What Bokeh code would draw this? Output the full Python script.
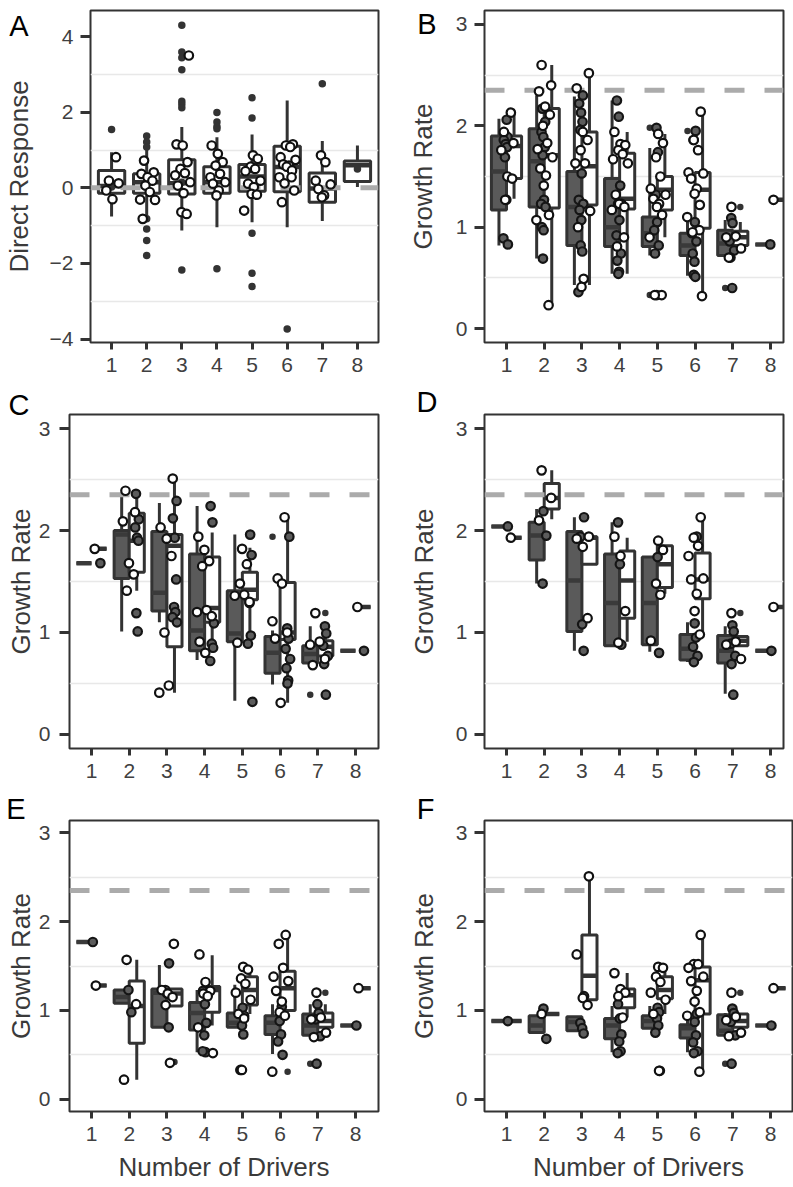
from bokeh.plotting import figure
from bokeh.models import Range1d, FixedTicker, ColumnDataSource, LinearAxis, CustomJSTickFormatter
from bokeh.layouts import column, row
from bokeh.embed import file_html
from bokeh.resources import INLINE

FONT = "Liberation Sans"
groups = [1, 2, 3, 4, 5, 6, 7, 8]
REF_RATE = 2.35
REF_DIRECT = 0.0

# ---------------- Panel A (Direct Response) ----------------
A_box = {"lo": [-0.76, -0.90, -1.13, -1.04, -0.91, -1.04, -0.88, 0.02],
         "q1": [-0.14, -0.14, -0.16, -0.14, -0.09, -0.10, -0.38, 0.17],
         "med": [0.05, 0.15, 0.12, 0.15, 0.30, 0.55, -0.02, 0.60],
         "q3": [0.46, 0.37, 0.74, 0.56, 0.62, 1.10, 0.39, 0.71],
         "hi": [0.94, 1.43, 1.61, 1.34, 1.41, 2.31, 1.24, 1.12]}
A_dark = [[1.54, 0.12, 0.08, 0.02],
          [1.37, 1.21, 1.08, 0.28, 0.15, -0.82, -1.09, -1.39, -1.79],
          [4.30, 3.59, 3.44, 3.12, 2.29, 2.21, 2.12, 0.15, -0.16, -2.17],
          [1.99, 1.74, 1.62, 1.56, 0.59, -2.14],
          [2.38, 1.85, 0.55, 0.48, -1.20, -2.26, -2.61],
          [-3.73],
          [2.75],
          [0.50]]
A_white = [[0.81, 0.19, 0.12, -0.07, -0.30],
           [0.72, 0.41, 0.37, 0.28, 0.19, 0.06, -0.11, -0.31, -0.32, -0.82],
           [3.50, 1.15, 1.12, 0.68, 0.50, 0.39, 0.33, 0.15, 0.06, -0.14, -0.64, -0.69],
           [1.12, 0.90, 0.68, 0.59, 0.37, 0.28, 0.15, 0.11, -0.07, -0.20],
           [0.86, 0.77, 0.56, 0.50, 0.44, 0.19, 0.11, 0.02, -0.16, -0.18, -0.60],
           [1.15, 1.12, 1.08, 0.81, 0.74, 0.62, 0.59, 0.56, 0.46, 0.28, 0.28, 0.12, -0.07, -0.38],
           [0.86, 0.68, 0.19, 0.09, -0.03, -0.20, -0.25],
           []]

# ---------------- Panel B ----------------
B_dark_box = {"lo": [0.82, 0.69, 0.43, 0.54, 0.72, 0.52, 0.72, 0.83],
              "q1": [1.17, 1.20, 0.82, 0.81, 0.81, 0.72, 0.72, 0.83],
              "med": [1.55, 1.65, 1.20, 1.00, 0.94, 0.82, 0.84, 0.83],
              "q3": [1.90, 1.97, 1.55, 1.48, 1.10, 0.94, 0.97, 0.83],
              "hi": [2.07, 2.30, 2.29, 2.25, 1.78, 1.09, 1.07, 0.83]}
B_white_box = {"lo": [1.28, 0.23, 0.43, 0.54, 0.90, 0.30, 0.82, 1.27],
               "q1": [1.48, 1.19, 1.22, 1.18, 1.17, 0.99, 0.82, 1.27],
               "med": [1.80, 1.71, 1.60, 1.28, 1.37, 1.37, 0.90, 1.27],
               "q3": [1.90, 2.17, 1.94, 1.73, 1.50, 1.54, 0.96, 1.27],
               "hi": [2.12, 2.60, 2.52, 1.94, 1.92, 2.13, 1.05, 1.27]}
B_dark = [[2.06, 1.92, 1.89, 1.86, 1.82, 1.79, 1.69, 1.27, 0.89, 0.83],
          [2.17, 2.04, 1.94, 1.89, 1.79, 1.71, 1.27, 1.23, 1.20, 1.00, 0.97, 0.69],
          [2.30, 2.22, 2.13, 2.04, 1.96, 1.53, 1.27, 1.23, 1.17, 1.07, 0.82, 0.76, 0.36],
          [2.25, 2.09, 1.41, 1.23, 1.07, 0.92, 0.74, 0.67, 0.56, 0.54],
          [1.98, 1.74, 1.32, 1.05, 0.97, 0.82, 0.74, 0.33],
          [1.95, 1.86, 1.05, 0.94, 0.86, 0.74, 0.66, 0.53, 0.51],
          [1.09, 1.04, 0.86, 0.77, 0.70, 0.40],
          [0.83]]
B_white = [[2.13, 1.94, 1.83, 1.76, 1.50, 1.48, 1.27],
           [2.60, 2.40, 2.34, 2.19, 2.11, 2.00, 1.83, 1.77, 1.69, 1.58, 1.51, 1.41, 1.12, 1.07, 0.23],
           [2.52, 2.37, 1.94, 1.86, 1.76, 1.63, 1.63, 1.16, 1.00, 0.49, 0.41],
           [1.94, 1.82, 1.81, 1.76, 1.72, 1.67, 1.63, 1.32, 1.23, 1.23, 1.20, 1.17, 0.90, 0.81],
           [1.92, 1.83, 1.69, 1.50, 1.38, 1.32, 1.28, 1.23, 1.20, 1.12, 0.90, 0.33, 0.33],
           [2.14, 1.86, 1.76, 1.54, 1.53, 1.48, 1.38, 1.33, 1.22, 1.10, 0.97, 0.95, 0.32],
           [1.20, 0.91, 0.90, 0.79, 0.70],
           [1.27]]
B_out_group = [5, 5, 6, 7, 7]
B_out_side = ["dark", "dark", "dark", "dark", "white"]
B_out_value = [1.98, 0.33, 1.95, 0.40, 1.20]

# ---------------- Panel C ----------------
C_dark_box = {"lo": [1.68, 1.01, 1.10, 0.73, 0.33, 0.49, 0.70, 0.82],
              "q1": [1.68, 1.53, 1.21, 0.82, 0.91, 0.60, 0.70, 0.82],
              "med": [1.68, 1.96, 1.39, 1.02, 0.99, 0.80, 0.79, 0.82],
              "q3": [1.68, 2.00, 1.99, 1.77, 1.41, 0.96, 0.87, 0.82],
              "hi": [1.68, 2.34, 2.27, 2.24, 1.96, 1.02, 1.06, 0.82]}
C_white_box = {"lo": [1.82, 1.41, 0.41, 0.80, 0.90, 0.31, 0.74, 1.25],
               "q1": [1.82, 1.59, 0.86, 1.10, 1.32, 0.93, 0.77, 1.25],
               "med": [1.82, 1.90, 1.85, 1.24, 1.42, 1.00, 0.86, 1.25],
               "q3": [1.82, 2.17, 1.96, 1.74, 1.59, 1.49, 0.92, 1.25],
               "hi": [1.82, 2.37, 2.51, 1.98, 1.83, 2.13, 1.06, 1.25]}
C_dark = [[1.68],
          [2.36, 2.11, 2.03, 1.93, 1.90, 1.19, 1.01],
          [2.29, 2.12, 1.93, 1.52, 1.25, 1.20, 1.15, 1.10],
          [2.24, 2.08, 1.09, 0.89, 0.85, 0.72],
          [1.96, 1.76, 1.29, 0.97, 0.89, 0.32],
          [1.94, 1.04, 0.94, 0.84, 0.74, 0.65, 0.53, 0.50],
          [1.06, 0.99, 0.87, 0.77, 0.69, 0.39],
          [0.82]]
C_white = [[1.82],
           [2.39, 2.18, 2.09, 1.68, 1.57, 1.41],
           [2.51, 2.03, 1.92, 1.75, 1.00, 0.48, 0.41],
           [1.94, 1.81, 1.70, 1.65, 1.22, 1.20, 1.16, 0.91, 0.80],
           [1.82, 1.67, 1.48, 1.37, 1.36, 1.30, 0.90],
           [2.13, 1.53, 1.48, 1.11, 1.00, 0.94, 0.31],
           [1.19, 0.91, 0.88, 0.74, 0.68],
           [1.25]]
C_out_group = [6, 7, 7]
C_out_side = ["dark", "dark", "white"]
C_out_value = [1.94, 0.39, 1.19]

# ---------------- Panel D ----------------
D_dark_box = {"lo": [2.04, 1.48, 0.82, 0.87, 0.81, 0.71, 0.40, 0.82],
              "q1": [2.04, 1.71, 1.01, 0.87, 0.88, 0.73, 0.70, 0.82],
              "med": [2.04, 1.95, 1.51, 1.29, 1.29, 0.84, 0.82, 0.82],
              "q3": [2.04, 2.08, 1.99, 1.77, 1.74, 0.98, 0.97, 0.82],
              "hi": [2.04, 2.21, 2.13, 2.08, 1.74, 1.10, 1.06, 0.82]}
D_white_box = {"lo": [1.93, 2.11, 1.67, 0.91, 1.38, 0.98, 0.87, 1.25],
               "q1": [1.93, 2.21, 1.67, 1.14, 1.44, 1.33, 0.87, 1.25],
               "med": [1.93, 2.32, 1.93, 1.51, 1.67, 1.52, 0.92, 1.25],
               "q3": [1.93, 2.46, 1.94, 1.80, 1.85, 1.78, 0.96, 1.25],
               "hi": [1.93, 2.59, 1.94, 1.93, 1.85, 2.13, 0.96, 1.25]}
D_dark = [[2.04], [2.19, 1.95, 1.48], [2.13, 1.94, 1.08, 0.82], [2.08, 1.67, 0.88],
          [1.74, 0.80], [1.94, 1.09, 0.95, 0.86, 0.77, 0.71],
          [1.07, 1.01, 0.89, 0.77, 0.69, 0.39], [0.82]]
D_white = [[1.93], [2.59, 2.32, 2.10], [1.94, 1.92, 1.84, 1.14], [1.94, 1.75, 1.21, 0.90],
           [1.90, 1.81, 1.48, 1.37, 0.92],
           [2.13, 1.93, 1.85, 1.75, 1.53, 1.52, 1.38, 1.21, 0.98],
           [1.19, 0.91, 0.88, 0.74], [1.25]]
D_out_group = [7]
D_out_side = ["white"]
D_out_value = [1.19]

# ---------------- Panel E ----------------
E_dark_box = {"lo": [1.77, 1.08, 0.81, 0.53, 0.81, 0.51, 0.72, 0.83],
              "q1": [1.77, 1.08, 0.81, 0.78, 0.81, 0.73, 0.72, 0.83],
              "med": [1.77, 1.15, 1.20, 0.97, 0.86, 0.86, 0.83, 0.83],
              "q3": [1.77, 1.23, 1.24, 1.09, 0.97, 0.94, 0.96, 0.83],
              "hi": [1.77, 1.23, 1.51, 1.23, 1.29, 1.07, 1.07, 0.83]}
E_white_box = {"lo": [1.28, 0.22, 1.05, 0.83, 0.96, 1.00, 0.81, 1.25],
               "q1": [1.28, 0.63, 1.05, 0.98, 1.06, 1.00, 0.81, 1.25],
               "med": [1.28, 1.05, 1.19, 1.23, 1.23, 1.25, 0.88, 1.25],
               "q3": [1.28, 1.33, 1.24, 1.27, 1.38, 1.44, 0.97, 1.25],
               "hi": [1.28, 1.57, 1.24, 1.62, 1.46, 1.83, 1.07, 1.25]}
E_dark = [[1.77], [1.23, 0.98], [1.53, 1.23, 1.19, 0.81], [1.22, 1.07, 0.86, 0.72, 0.53, 0.54],
          [1.03, 0.94, 0.83, 0.73, 0.33], [1.04, 0.88, 0.73, 0.65, 0.50],
          [1.07, 0.97, 0.90, 0.71, 0.40], [0.83]]
E_white = [[1.28], [1.57, 1.07, 0.22], [1.75, 1.23, 1.19, 1.15, 1.06, 0.41],
           [1.63, 1.32, 1.22, 1.19, 1.16, 0.81, 0.52],
           [1.49, 1.46, 1.36, 1.30, 1.20, 1.12, 0.96, 0.91, 0.33],
           [1.85, 1.75, 1.48, 1.38, 1.33, 1.22, 1.10, 0.98, 0.94, 0.31],
           [1.20, 0.92, 0.90, 0.75, 0.70], [1.25]]
E_out_group = [3, 3, 6, 7, 7]
E_out_side = ["white", "white", "white", "dark", "white"]
E_out_value = [1.75, 0.42, 0.31, 0.40, 1.20]

# ---------------- Panel F ----------------
F_dark_box = {"lo": [0.88, 0.75, 0.77, 0.53, 0.80, 0.53, 0.72, 0.83],
              "q1": [0.88, 0.75, 0.77, 0.68, 0.80, 0.69, 0.72, 0.83],
              "med": [0.88, 0.83, 0.87, 0.83, 0.88, 0.80, 0.77, 0.83],
              "q3": [0.88, 0.94, 0.93, 0.91, 0.94, 0.84, 0.95, 0.83],
              "hi": [0.88, 0.94, 0.93, 1.05, 1.05, 0.96, 0.97, 0.83]}
F_white_box = {"lo": [0.88, 0.96, 1.12, 0.92, 0.96, 0.33, 0.81, 1.25],
               "q1": [0.88, 0.96, 1.12, 1.03, 1.13, 0.96, 0.81, 1.25],
               "med": [0.88, 0.96, 1.39, 1.17, 1.23, 1.34, 0.88, 1.25],
               "q3": [0.88, 0.96, 1.85, 1.24, 1.38, 1.49, 0.96, 1.25],
               "hi": [0.88, 0.96, 2.51, 1.42, 1.49, 1.84, 0.96, 1.25]}
F_dark = [[0.88], [1.02, 0.68], [1.16, 0.86, 0.80, 0.74], [1.07, 0.91, 0.73, 0.65, 0.54, 0.52],
          [1.03, 0.98, 0.91, 0.83, 0.75, 0.32], [0.96, 0.87, 0.72, 0.64, 0.54, 0.52],
          [1.02, 0.97, 0.87, 0.72, 0.40], [0.83]]
F_white = [[], [0.96], [2.51, 1.63, 1.14, 1.06], [1.42, 1.24, 1.20, 1.16, 0.92],
           [1.49, 1.48, 1.38, 1.32, 1.20, 1.12, 0.96, 0.32],
           [1.85, 1.52, 1.52, 1.48, 1.38, 1.33, 1.22, 1.10, 0.98, 0.94, 0.31],
           [1.20, 0.93, 0.89, 0.75, 0.71], [1.25]]
F_out_group = [7, 7]
F_out_side = ["dark", "white"]
F_out_value = [0.40, 1.20]

# ---------------- styling / helpers ----------------
DARK_FILL = "#5a5a5a"
LINE = "#333333"
TITLE_COLOR = "#3a3a3a"
JITTER = [-0.9, 0.5, -0.3, 0.8, -0.6, 0.1, 0.65, -0.15, 0.35, -0.75, 0.95, -0.45, 0.2, -0.05, 0.55]


def make_fig(w, h, xr, yr, bl, br, bt, bb, yticks, minor, ystandoff):
    p = figure(width=w, height=h, x_range=Range1d(*xr), y_range=Range1d(*yr), title=None,
               output_backend="svg", toolbar_location=None,
               min_border_left=bl, min_border_right=br, min_border_top=bt, min_border_bottom=bb)
    p.outline_line_color = LINE
    p.outline_line_width = 2
    p.background_fill_color = "white"
    p.border_fill_color = "white"
    p.xgrid.visible = False
    p.ygrid.ticker = FixedTicker(ticks=minor)
    p.ygrid.grid_line_color = "#e8e8e8"
    p.ygrid.grid_line_width = 1.3
    xa = p.xaxis[0]
    ya = p.yaxis[0]
    xa.ticker = FixedTicker(ticks=groups)
    ya.ticker = FixedTicker(ticks=yticks)
    ya.formatter = CustomJSTickFormatter(code="return tick < 0 ? '\\u2212' + Math.abs(tick) : String(tick);")
    for ax in (xa, ya):
        ax.axis_line_color = None
        ax.major_tick_line_color = LINE
        ax.major_tick_line_width = 3
        ax.major_tick_in = 0
        ax.minor_tick_line_color = None
        ax.major_label_text_font = FONT
        ax.major_label_text_font_size = "21px"
        ax.major_label_text_color = "#404040"
    xa.major_tick_out = 7
    xa.major_label_standoff = 8
    ya.major_tick_out = 10
    ya.major_label_standoff = ystandoff
    return p


def letter_axis(p, letter, px_from_top, standoff, ytitle, title_standoff, two_line=False):
    """Outer left axis that carries the panel letter (as its only tick label) and the y title."""
    yr = p.y_range
    ppu = (p.height - p.min_border_top - p.min_border_bottom) / (yr.end - yr.start)
    tick = round(yr.end - px_from_top / ppu, 4)
    txt = letter + ("\\n\\u00a0" if two_line else "")
    ax = LinearAxis(ticker=FixedTicker(ticks=[tick]),
                    formatter=CustomJSTickFormatter(code="return '%s';" % txt))
    ax.axis_line_color = None
    ax.major_tick_line_color = None
    ax.minor_tick_line_color = None
    ax.major_tick_out = 0
    ax.major_tick_in = 0
    ax.major_label_standoff = standoff
    ax.major_label_text_font = FONT
    ax.major_label_text_font_size = "29px"
    ax.major_label_text_color = "black"
    ax.axis_label = ytitle
    ax.axis_label_standoff = title_standoff
    ax.axis_label_text_font = FONT
    ax.axis_label_text_font_size = "26px"
    ax.axis_label_text_font_style = "normal"
    ax.axis_label_text_color = TITLE_COLOR
    p.add_layout(ax, "left")


def x_title(p):
    xa = p.xaxis[0]
    xa.axis_label = "Number of Drivers"
    xa.axis_label_standoff = 8
    xa.axis_label_text_font = FONT
    xa.axis_label_text_font_size = "26px"
    xa.axis_label_text_font_style = "normal"
    xa.axis_label_text_color = TITLE_COLOR


def draw_ref(p, yval, offset=0):
    xr = p.x_range
    p.segment(x0=[xr.start], y0=[yval], x1=[xr.end], y1=[yval], line_color="#ababab",
              line_width=5, line_dash="20 20", line_dash_offset=offset)


def draw_boxes(p, box, shift, width, fill, med_color):
    xs = [g + shift for g in groups]
    src = ColumnDataSource(dict(x=xs, x0=[x - width / 2 for x in xs], x1=[x + width / 2 for x in xs],
                                lo=box["lo"], q1=box["q1"], med=box["med"], q3=box["q3"], hi=box["hi"]))
    p.segment(x0="x", y0="q3", x1="x", y1="hi", source=src, line_color=LINE, line_width=3)
    p.segment(x0="x", y0="q1", x1="x", y1="lo", source=src, line_color=LINE, line_width=3)
    p.vbar(x="x", width=width, top="q3", bottom="q1", source=src, fill_color=fill,
           line_color=LINE, line_width=3)
    p.segment(x0="x0", y0="med", x1="x1", y1="med", source=src, line_color=med_color, line_width=4.5)


def jittered(values_by_group, center, spread):
    xs, ys = [], []
    for g, vals in zip(groups, values_by_group):
        for i, v in enumerate(vals):
            xs.append(g + center + JITTER[(i + g) % len(JITTER)] * spread)
            ys.append(v)
    return xs, ys


def draw_points(p, vals, center, spread, kind):
    xs, ys = jittered(vals, center, spread)
    if kind == "white":
        p.scatter(xs, ys, size=8.5, fill_color="white", line_color="#111111", line_width=2.2)
    elif kind == "dark":
        p.scatter(xs, ys, size=8.5, fill_color="#5c5c5c", line_color="#151515", line_width=2.2)
    else:
        p.scatter(xs, ys, size=7.5, fill_color=LINE, line_color=None)


def draw_outliers(p, grp, side, val):
    xs = [g + (-0.2 if s == "dark" else 0.2) for g, s in zip(grp, side)]
    p.scatter(xs, val, size=6.5, fill_color=LINE, line_color=None)


def growth_panel(p, dbox, wbox, dpts, wpts, og, os_, ov, dark_center, white_center):
    draw_boxes(p, dbox, -0.2, 0.4, DARK_FILL, "#3a3a3a")
    draw_boxes(p, wbox, 0.2, 0.4, "white", LINE)
    draw_ref(p, REF_RATE)
    draw_outliers(p, og, os_, ov)
    draw_points(p, dpts, dark_center, 0.07, "dark")
    draw_points(p, wpts, white_center, 0.23, "white")


YR = (-0.138, 3.138)
YT = [0, 1, 2, 3]
YM = [0.5, 1.5, 2.5]

# Panel A
pA = make_fig(395, 384, (0.4, 8.6), (-4.09, 4.69), 90, 17, 10, 42, [-4, -2, 0, 2, 4], [-3, -1, 1, 3], 7)
draw_boxes(pA, A_box, 0.0, 0.75, "white", LINE)
draw_ref(pA, REF_DIRECT, offset=10)
draw_points(pA, A_dark, 0.0, 0.0, "dot")
draw_points(pA, A_white, 0.0, 0.25, "white")
letter_axis(pA, "A", 15, 18, "Direct Response", -28)

pB = make_fig(398, 384, (0.4166, 8.3456), YR, 89, 10, 10, 42, YT, YM, 7)
growth_panel(pB, B_dark_box, B_white_box, B_dark, B_white, B_out_group, B_out_side, B_out_value, -0.03, 0.0)
letter_axis(pB, "B", 14, 16, "Growth Rate", -24)

pC = make_fig(395, 406, (0.4166, 8.61), YR, 69, 17, 30, 42, YT, YM, 9)
growth_panel(pC, C_dark_box, C_white_box, C_dark, C_white, C_out_group, C_out_side, C_out_value, 0.2, -0.03)
letter_axis(pC, "C", 0.5, 6, "Growth Rate", -30, two_line=True)

pD = make_fig(398, 406, (0.4166, 8.3456), YR, 89, 10, 30, 42, YT, YM, 7)
growth_panel(pD, D_dark_box, D_white_box, D_dark, D_white, D_out_group, D_out_side, D_out_value, 0.0, 0.0)
letter_axis(pD, "D", 6.5, 15, "Growth Rate", -25, two_line=True)

pE = make_fig(395, 397, (0.4166, 8.61), YR, 69, 17, 30, 76, YT, YM, 9)
growth_panel(pE, E_dark_box, E_white_box, E_dark, E_white, E_out_group, E_out_side, E_out_value, 0.0, 0.0)
letter_axis(pE, "E", 7.5, 10, "Growth Rate", -33, two_line=True)
x_title(pE)

pF = make_fig(398, 397, (0.4166, 8.584), YR, 89, 1, 30, 76, YT, YM, 7)
growth_panel(pF, F_dark_box, F_white_box, F_dark, F_white, F_out_group, F_out_side, F_out_value, 0.0, 0.0)
letter_axis(pF, "F", 7.5, 18, "Growth Rate", -25, two_line=True)
x_title(pF)

layout = column(row(pA, pB), row(pC, pD), row(pE, pF))
open("out.html", "w").write(file_html(layout, INLINE))
